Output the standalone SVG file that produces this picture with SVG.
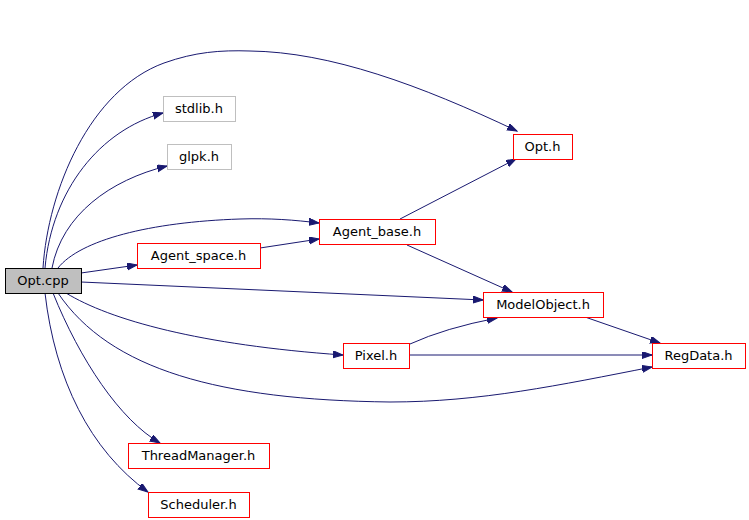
<svg xmlns="http://www.w3.org/2000/svg" width="749" height="520" viewBox="0 0 749 520">
<style>
.n rect{fill:#fff;stroke:#ff0000;stroke-width:1;shape-rendering:crispEdges}
.n text{font-family:"DejaVu Sans",sans-serif;font-size:13px;text-anchor:middle;fill:#000}
.g rect{stroke:#bfbfbf}
.root rect{fill:#bfbfbf;stroke:#000}
.e path{fill:none;stroke:#191970;stroke-width:1;marker-end:url(#ah)}
</style>
<defs>
<marker id="ah" markerUnits="userSpaceOnUse" markerWidth="11" markerHeight="8" refX="10" refY="3.5" orient="auto">
<path d="M0,0 L10,3.5 L0,7 Z" fill="#191970" stroke="#191970" stroke-width="1"/>
</marker>
</defs>
<rect width="749" height="520" fill="#fff"/>
<g class="e" id="edges">
<path d="M43,268 C48,190 90,90 164,63 C195,52 220,50 250,51 C330,52 420,85 517,131"/>
<path d="M45,268 C52,190 100,130 163,113"/>
<path d="M52,268 C62,215 110,180 167,166"/>
<path d="M58,268 C80,240 150,222 240,219 C270,218 295,220 319,223"/>
<path d="M81,273 L137,265"/>
<path d="M81,282 L483,300"/>
<path d="M66,293 C110,320 200,345 343,355"/>
<path d="M58,293 C110,370 220,400 390,402 C480,402 560,385 652,367"/>
<path d="M53,293 C80,360 120,420 160,443"/>
<path d="M45,293 C55,380 90,450 148,492"/>
<path d="M260,248 L319,239"/>
<path d="M400,219 L516,159"/>
<path d="M407,245 L512,292"/>
<path d="M585,317 L660,343"/>
<path d="M410,344 Q445,328 497,318"/>
<path d="M410,355 L652,355"/>
</g>
<g class="n root" id="node-opt-cpp"><rect x="5" y="268" width="76" height="25"/><text x="43" y="285">Opt.cpp</text></g>
<g class="n g" id="node-stdlib"><rect x="163" y="96" width="72" height="25"/><text x="199" y="113">stdlib.h</text></g>
<g class="n g" id="node-glpk"><rect x="167" y="144" width="64" height="25"/><text x="199" y="161">glpk.h</text></g>
<g class="n" id="node-opt-h"><rect x="513" y="134" width="59" height="25"/><text x="542.5" y="151">Opt.h</text></g>
<g class="n" id="node-agent-base"><rect x="319" y="219" width="116" height="25"/><text x="377" y="236">Agent_base.h</text></g>
<g class="n" id="node-agent-space"><rect x="137" y="243" width="123" height="25"/><text x="198.5" y="260">Agent_space.h</text></g>
<g class="n" id="node-modelobject"><rect x="483" y="292" width="120" height="25"/><text x="543" y="309">ModelObject.h</text></g>
<g class="n" id="node-pixel"><rect x="343" y="343" width="66" height="25"/><text x="376" y="360">Pixel.h</text></g>
<g class="n" id="node-regdata"><rect x="652" y="343" width="93" height="25"/><text x="698.5" y="360">RegData.h</text></g>
<g class="n" id="node-threadmanager"><rect x="128" y="443" width="141" height="25"/><text x="198.5" y="460">ThreadManager.h</text></g>
<g class="n" id="node-scheduler"><rect x="148" y="492" width="101" height="25"/><text x="198.5" y="509">Scheduler.h</text></g>
</svg>
